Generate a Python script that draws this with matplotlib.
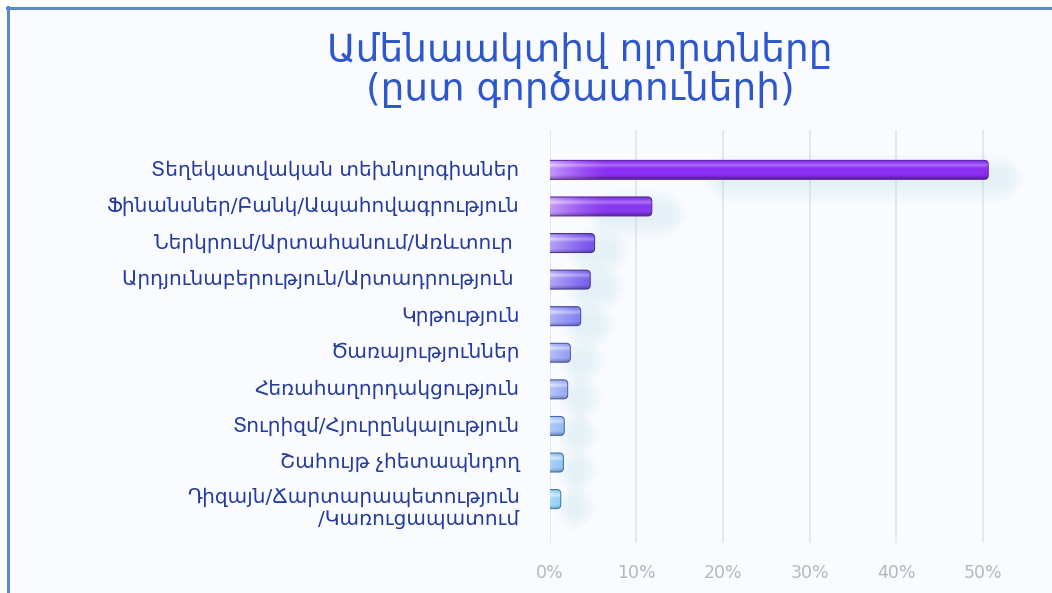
import numpy as np
import matplotlib.pyplot as plt
import matplotlib.colors as mcolors
import matplotlib.transforms as mtransforms
from matplotlib.patches import FancyBboxPatch, Rectangle
from matplotlib.lines import Line2D

# data
categories = [
    'Տեղեկատվական տեխնոլոգիաներ',
    'Ֆինանսներ/Բանկ/Ապահովագրություն',
    'Ներկրում/Արտահանում/Առևտուր ',
    'Արդյունաբերություն/Արտադրություն ',
    'Կրթություն',
    'Ծառայություններ',
    'Հեռահաղորդակցություն',
    'Տուրիզմ/Հյուրընկալություն',
    'Շահույթ չհետապնդող',
    'Դիզայն/Ճարտարապետություն\n/Կառուցապատում',
]
shares = [50.6, 11.8, 5.2, 4.7, 3.6, 2.4, 2.1, 1.7, 1.6, 1.3]
xticks = [0, 10, 20, 30, 40, 50]
xtick_labels = ['0%', '10%', '20%', '30%', '40%', '50%']
title_lines = ['Ամենաակտիվ ոլորտները', '(ըստ գործատուների)']

bar_colors = ['#8a2ff3', '#8838ee', '#6c45ec', '#6a50ec', '#6466ef',
              '#6a7cf0', '#6788f0', '#5e97f0', '#58a3f2', '#52b3f6']

W, H = 1052, 593
fig = plt.figure(figsize=(W / 100, H / 100), dpi=100)
fig.patch.set_facecolor('#f9fbff')

# white margin and blue frame
fig.add_artist(Rectangle((0, 0), 6 / W, 1, transform=fig.transFigure,
                         color='white', zorder=0))
fig.add_artist(Rectangle((0, 1 - 7 / H), 1, 7 / H, transform=fig.transFigure,
                         color='white', zorder=0))
fig.add_artist(Line2D([7.5 / W, 7.5 / W], [0, 1 - 7 / H], color='#5b88c6',
                      lw=2.2, transform=fig.transFigure))
fig.add_artist(Line2D([6.5 / W, 1], [1 - 8 / H, 1 - 8 / H], color='#5b88c6',
                      lw=2.2, transform=fig.transFigure))

ax_left, ax_right, ax_top, ax_bot = 549.5, W, 130, 543
ax = fig.add_axes([ax_left / W, 1 - ax_bot / H,
                   (ax_right - ax_left) / W, (ax_bot - ax_top) / H])
ax.set_facecolor('none')

xmax = (ax_right - ax_left) / 8.67
ylim = (len(categories) - 1 + 1.2, -1.09)
ax.set_xlim(0, xmax)
ax.set_ylim(*ylim)

xpp = xmax / (ax_right - ax_left)
ypp = (ylim[0] - ylim[1]) / (ax_bot - ax_top)
asp = ypp / xpp

ypos = np.arange(len(categories))
bars = ax.barh(ypos, shares, height=0.52, color='none', edgecolor='none')

for bar, col in zip(bars, bar_colors):
    x0, w = bar.get_x(), bar.get_width()
    y0, h = bar.get_y(), bar.get_height()
    base = np.array(mcolors.to_rgb(col))

    # soft shadow, mostly past the right end
    for k in range(10):
        g = 1 + k * 2.0
        sx, sy = 18, 11
        sx0 = x0 + w * 0.35
        sh = FancyBboxPatch((sx0 + (sx - g) * xpp, y0 + (sy - g) * ypp),
                            w * 0.65 + 2 * g * xpp, h * 0.7 + 2 * g * ypp,
                            boxstyle='round,pad=0,rounding_size=%f' % (g * xpp * 2),
                            mutation_aspect=asp, facecolor='#bcd3f6',
                            edgecolor='none', alpha=0.025, zorder=2)
        ax.add_patch(sh)

    ext = 1.0
    patch = FancyBboxPatch((x0 - ext, y0), w + ext, h,
                           boxstyle='round,pad=0,rounding_size=%f' % (4 * xpp),
                           mutation_aspect=asp, facecolor='none',
                           edgecolor=base * 0.65, lw=0.7, zorder=4)
    ax.add_patch(patch)

    nx = max(int((w + ext) / xpp), 4)
    ny = 40
    px = np.linspace(-ext / xpp, w / xpp, nx)
    v = np.linspace(0, 1, ny)[:, None]
    light = 0.5 * (1 - np.clip(px / 60, 0, 1)) ** 1.5
    light = light[None, :]
    hl = 0.28 * np.exp(-((v - 0.3) / 0.1) ** 2)
    dk = 0.35 * np.clip((v - 0.8) / 0.2, 0, 1) + 0.35 * np.clip((0.1 - v) / 0.1, 0, 1)
    img = base[None, None, :] * (1 - dk[..., None])
    img = img + (1 - img) * np.clip(light + hl, 0, 1)[..., None] * (1 - dk[..., None])
    img = np.clip(img, 0, 1)
    im = ax.imshow(img, extent=[x0 - ext, x0 + w, y0 + h, y0], aspect='auto',
                   interpolation='bilinear', zorder=3)
    im.set_clip_path(patch)

ax.set_xlim(0, xmax)
ax.set_ylim(*ylim)

trans = mtransforms.blended_transform_factory(ax.transAxes, ax.transData)
for i, cat in enumerate(categories):
    if '\n' in cat:
        ax.text(-30 / (ax_right - ax_left), i - 12 * ypp, cat, transform=trans,
                ha='right', va='top', ma='right', fontsize=14.5, color='#253c9c',
                linespacing=1.2)
    else:
        ax.text(-30 / (ax_right - ax_left), i, cat, transform=trans, ha='right',
                va='center', fontsize=14.5, color='#253c9c')

ax.set_xticks(xticks, xtick_labels)
ax.set_yticks([])
ax.tick_params(axis='x', length=0, pad=15, labelcolor='#b3b7c0', labelsize=12.5)
ax.grid(axis='x', color='#e6e8ee', lw=1.5, zorder=0)
ax.set_axisbelow(True)
for s in ax.spines.values():
    s.set_visible(False)

fig.text(580 / W, 1 - 50 / H, title_lines[0], ha='center', va='center',
         fontsize=27, color='#2f57cc')
fig.text(580 / W, 1 - 89 / H, title_lines[1], ha='center', va='center',
         fontsize=27, color='#2f57cc')

fig.savefig('out.png', dpi=100, facecolor=fig.get_facecolor())
